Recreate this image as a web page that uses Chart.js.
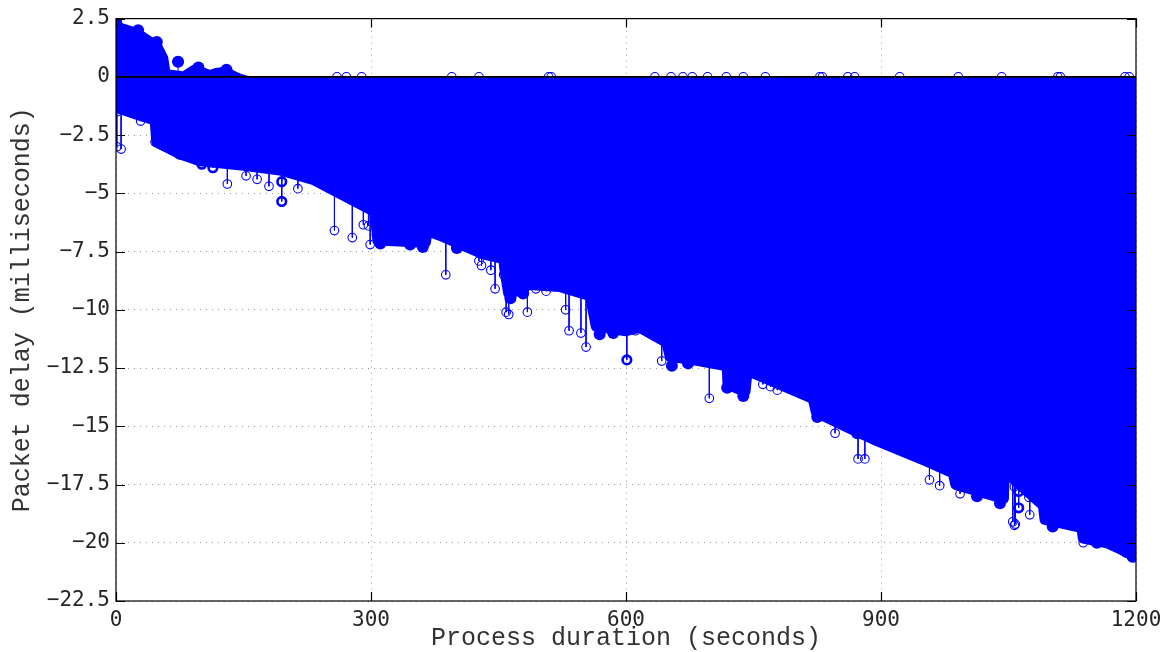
<!DOCTYPE html>
<html>
<head>
<meta charset="utf-8">
<script src="https://cdn.jsdelivr.net/npm/chart.js@4.4.0/dist/chart.umd.min.js"></script>
<style>
  html, body { margin: 0; padding: 0; background: #fff; }
</style>
</head>
<body>
<canvas id="delayChart" width="1170" height="652"></canvas>
<script>
// axis ticks
const xTicks = [0, 300, 600, 900, 1200];
const yTicks = [-22.5, -20, -17.5, -15, -12.5, -10, -7.5, -5, -2.5, 0, 2.5];

// lowest marker centres of the dense band of stems (seconds, ms)
const lowerX = [0, 28, 46, 48, 75, 99, 150, 193, 232, 300, 305, 308, 364, 366, 381, 432, 456, 458, 462, 480, 482, 522, 558, 565, 600, 616,
  648, 652, 680, 719, 720, 740, 742, 749, 820, 824, 864, 891, 954, 985, 988, 1044, 1045, 1091, 1093, 1130, 1134, 1138, 1166, 1178, 1200];
const lowerY = [-1.3, -1.65, -1.85, -2.8, -3.3, -3.6, -3.8, -4.0, -4.4, -5.7, -5.8, -7.0, -7.1, -6.6, -6.8, -7.6, -7.8, -8.4, -9.3, -9.1, -8.9, -9.0, -9.4, -10.7, -10.9, -10.75,
  -11.4, -12.0, -12.15, -12.4, -13.2, -13.5, -12.8, -12.7, -13.8, -14.4, -15.1, -15.55, -16.5, -17.0, -17.5, -18.1, -16.9, -18.4, -19.0, -19.3, -18.7, -19.8, -20.0, -20.2, -20.6];

// highest marker centres (positive delays at the start)
const upperX = [0, 4, 25, 48, 55, 58, 80, 93, 110, 118, 128, 145, 155, 1200];
const upperY = [2.3, 2.1, 1.85, 1.3, 0.8, 0.1, 0.0, 0.3, 0.05, 0.15, 0.2, -0.1, -0.2, -0.2];

// isolated stems below the band
const outX = [1, 1, 6, 29, 46, 131, 137, 153, 166, 180, 214, 257, 278, 291, 297, 299, 388, 427, 430, 441, 446, 456, 459, 462,
  484, 494, 506, 529, 533, 547, 553, 605, 611, 642, 698, 761, 770, 778, 846, 873, 881, 879, 957, 969, 993,
  1055, 1057, 1058, 1057, 1075, 1074, 1115, 1120, 1138];
const outY = [-1.5, -3.0, -3.1, -1.9, -2.8, -4.6, -3.75, -4.25, -4.4, -4.7, -4.8, -6.6, -6.9, -6.35, -6.4, -7.2, -8.5, -7.9, -8.1, -8.3, -9.1, -8.5, -10.1, -10.2,
  -10.1, -9.1, -9.2, -10.0, -10.9, -11.0, -11.6, -10.7, -10.9, -12.2, -13.8, -13.2, -13.3, -13.45, -15.3, -16.4, -16.4, -14.9, -17.3, -17.55, -17.9,
  -19.1, -19.25, -19.2, -17.6, -18.8, -18.05, -18.9, -18.6, -20.0];

// overlapping (heavy) stems
const heavyX = [73, 101, 114, 195, 195, 601, 1062, 1062];
const heavyY = [0.65, -3.75, -3.9, -4.5, -5.35, -12.15, -17.8, -18.5];

// samples sitting on zero
const zeroX = [260, 271, 289, 395, 427, 509, 512, 634, 653, 667, 678, 696, 718, 738, 764, 828, 831, 861, 869, 922, 991, 1042, 1108, 1111, 1187, 1192];

// clusters of markers on the band edges
const blobX = [0, 0, 0, 0, 0, 26, 48, 73, 97, 130, 55, 75, 311, 346, 361, 401, 464, 479, 569, 585, 654, 673, 719, 738, 825, 872,
  989, 1013, 1040, 1102, 1154, 1189, 1200, 1200, 1200, 1200, 1196];
const blobY = [2.4, 1.6, 0.8, 0, -0.9, 2.0, 1.5, 0.65, 0.4, 0.3, -2.9, -3.3, -7.15, -7.2, -7.3, -7.35, -9.5, -9.3, -11.05, -11.0, -12.4, -12.3, -13.35, -13.7, -14.6, -15.3,
  -17.0, -18.0, -18.3, -19.3, -20.0, -20.4, -17.5, -18.3, -19.2, -20.0, -20.6];

const blue = '#0000ff';
const pts = (xs, ys) => xs.map((x, i) => ({ x: x, y: ys[i] }));

// stems: pairs of points from 0 to the value, broken by gaps
const stemX = outX.concat(heavyX);
const stemY = outY.concat(heavyY);
const stemData = [];
stemX.forEach((x, i) => {
  stemData.push({ x: x, y: 0 }, { x: x, y: stemY[i] }, { x: x, y: null });
});

// box round the axes with inward tick marks
const frame = {
  id: 'frame',
  afterDatasetsDraw(chart) {
    const { ctx, chartArea: a, scales: { x, y } } = chart;
    ctx.save();
    ctx.strokeStyle = '#000';
    ctx.lineWidth = 1.2;
    ctx.strokeRect(a.left, a.top, a.right - a.left, a.bottom - a.top);
    ctx.beginPath();
    xTicks.forEach(v => {
      const px = Math.round(x.getPixelForValue(v)) + 0.5;
      ctx.moveTo(px, a.bottom); ctx.lineTo(px, a.bottom - 9);
      ctx.moveTo(px, a.top); ctx.lineTo(px, a.top + 9);
    });
    yTicks.forEach(v => {
      const py = Math.round(y.getPixelForValue(v)) + 0.5;
      ctx.moveTo(a.left, py); ctx.lineTo(a.left + 9, py);
      ctx.moveTo(a.right, py); ctx.lineTo(a.right - 9, py);
    });
    ctx.stroke();
    ctx.restore();
  }
};

const fmt = v => String(Math.round(v * 10) / 10).replace('-', '\u2212');

new Chart(document.getElementById('delayChart'), {
  type: 'scatter',
  data: {
    datasets: [
      { type: 'line', data: [{ x: 0, y: 0 }, { x: 1200, y: 0 }], borderColor: '#000', borderWidth: 1.6, pointRadius: 0, order: 0 },
      { data: zeroX.map(x => ({ x: x, y: 0 })), pointStyle: 'circle', pointRadius: 4.3, borderColor: blue, borderWidth: 1.1, backgroundColor: 'rgba(0,0,0,0)', order: 1 },
      { data: pts(outX, outY), pointStyle: 'circle', pointRadius: 4.3, borderColor: blue, borderWidth: 1.1, backgroundColor: 'rgba(0,0,0,0)', order: 1 },
      { data: pts(heavyX, heavyY), pointStyle: 'circle', pointRadius: 4.3, borderColor: blue, borderWidth: 2.6, backgroundColor: 'rgba(0,0,0,0)', order: 1 },
      { type: 'line', data: stemData, spanGaps: false, borderColor: blue, borderWidth: 1, pointRadius: 0, order: 2 },
      { data: pts(blobX, blobY), pointStyle: 'circle', pointRadius: 6, borderWidth: 0, backgroundColor: blue, order: 3 },
      { type: 'line', data: pts(lowerX, lowerY), borderColor: blue, borderWidth: 11, borderJoinStyle: 'round', borderCapStyle: 'round', backgroundColor: blue, fill: 'origin', pointRadius: 0, tension: 0, order: 4 },
      { type: 'line', data: pts(upperX, upperY), borderColor: blue, borderWidth: 11, borderJoinStyle: 'round', borderCapStyle: 'round', backgroundColor: blue, fill: 'origin', pointRadius: 0, tension: 0, order: 5 }
    ]
  },
  options: {
    responsive: false,
    animation: false,
    devicePixelRatio: 1,
    layout: { padding: { top: 17, right: 34, left: 0, bottom: 0 } },
    plugins: { legend: { display: false }, tooltip: { enabled: false } },
    scales: {
      x: {
        type: 'linear', min: 0, max: 1200, offset: false,
        afterBuildTicks: s => { s.ticks = xTicks.map(v => ({ value: v })); },
        afterFit: s => { s.height = 51; },
        grid: { color: '#999', lineWidth: 1, drawTicks: false },
        border: { display: false, dash: [1, 5] },
        ticks: { padding: 7, color: '#262626', font: { family: 'DejaVu Sans Mono', size: 21 }, maxRotation: 0, callback: v => fmt(v) },
        title: { display: true, text: 'Process duration (seconds)', color: '#333', padding: { top: 0, bottom: -1 }, font: { family: 'Liberation Mono', size: 25, lineHeight: 1.2 } }
      },
      y: {
        type: 'linear', min: -22.5, max: 2.5,
        afterBuildTicks: s => { s.ticks = yTicks.map(v => ({ value: v })); },
        afterFit: s => { s.width = 116; },
        grid: { color: '#999', lineWidth: 1, drawTicks: false },
        border: { display: false, dash: [1, 5] },
        ticks: { padding: 6, color: '#262626', font: { family: 'DejaVu Sans Mono', size: 21 }, callback: v => fmt(v) },
        title: { display: true, text: 'Packet delay (milliseconds)', color: '#333', padding: { top: 7, bottom: 0 }, font: { family: 'Liberation Mono', size: 25, lineHeight: 1.2 } }
      }
    }
  },
  plugins: [frame]
});
</script>
</body>
</html>
